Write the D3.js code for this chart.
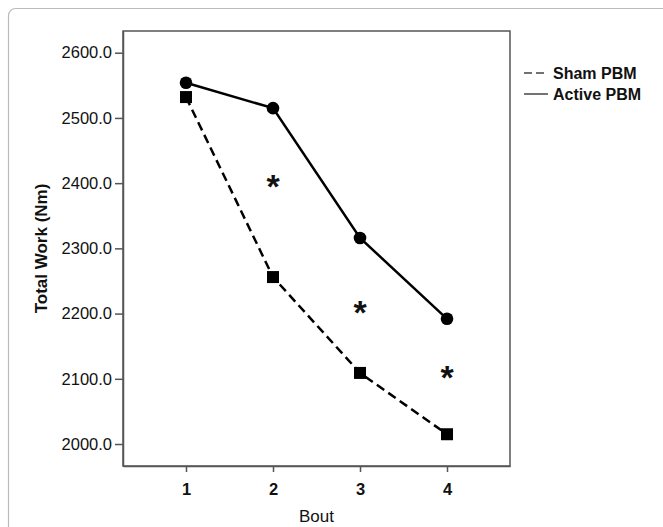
<!DOCTYPE html>
<html>
  <head>
    <meta charset="UTF-8">
    <title>Total work by bout</title>
  </head>
  <style type="text/css">
    body { margin: 0; background: #fff; }
    text { font-family: "Liberation Sans", Arial, sans-serif; fill: #111; }
    .tick text { font-size: 16.5px; }
    .axis-title { font-size: 17px; font-weight: bold; }
    .legend text { font-size: 16px; font-weight: bold; }
  </style>
  <body>
    <svg width="663" height="527"></svg>
  </body>
  <script src="https://d3js.org/d3.v7.min.js"></script>
  <script type="text/javascript">
    const bouts = [1, 2, 3, 4];
    const shamWork = [2532, 2256, 2109, 2015];
    const activeWork = [2554, 2515, 2316, 2192];
    const yTicks = [2000, 2100, 2200, 2300, 2400, 2500, 2600];
    // significance markers (*) between the groups
    const sigBouts = [2, 3, 4];
    const sigWork = [2402, 2208, 2109];

    let svg = d3.select('svg'),
        width = +svg.attr('width'),
        height = +svg.attr('height');

    let plot = { left: 123, top: 31, right: 510, bottom: 466 };

    // outer frame, cut off at right and bottom
    svg.append('rect')
      .attr('x', 8.5).attr('y', 8.5)
      .attr('width', 700).attr('height', 600)
      .attr('rx', 7)
      .attr('fill', 'none')
      .attr('stroke', '#bbb')
      .attr('stroke-width', 1.2);

    const x = d3.scaleLinear()
      .domain([1 - 0.724, 4 + 0.724])
      .range([plot.left, plot.right]);

    const y = d3.scaleLinear()
      .domain([1966.3, 2633.3])
      .range([plot.bottom, plot.top]);

    // plot box
    svg.append('rect')
      .attr('x', plot.left).attr('y', plot.top)
      .attr('width', plot.right - plot.left)
      .attr('height', plot.bottom - plot.top)
      .attr('fill', 'none')
      .attr('stroke', '#555')
      .attr('stroke-width', 1.5);

    const yAxis = svg.append('g')
      .attr('transform', 'translate(' + plot.left + ',0)')
      .call(d3.axisLeft(y).tickValues(yTicks).tickFormat(d3.format('.1f'))
        .tickSizeInner(8).tickSizeOuter(0).tickPadding(3));

    const xAxis = svg.append('g')
      .attr('transform', 'translate(0,' + plot.bottom + ')')
      .call(d3.axisBottom(x).tickValues(bouts).tickFormat(d3.format('d'))
        .tickSizeInner(6).tickSizeOuter(0).tickPadding(11));

    [yAxis, xAxis].forEach(a => {
      a.select('.domain').attr('stroke', '#555').attr('stroke-width', 1.5);
      a.selectAll('.tick line').attr('stroke', '#555').attr('stroke-width', 1.5);
      a.selectAll('.tick text').attr('fill', '#111');
    });
    xAxis.selectAll('.tick text').style('font-weight', 'bold');

    svg.append('text')
      .attr('class', 'axis-title')
      .attr('text-anchor', 'middle')
      .attr('transform', 'translate(47,' + ((plot.top + plot.bottom) / 2) + ') rotate(-90)')
      .text('Total Work (Nm)');

    svg.append('text')
      .attr('class', 'axis-title')
      .style('font-weight', 'normal')
      .attr('text-anchor', 'middle')
      .attr('x', (plot.left + plot.right) / 2)
      .attr('y', 522)
      .text('Bout');

    const line = d3.line()
      .x((d, i) => x(bouts[i]))
      .y(d => y(d));

    svg.append('path')
      .datum(shamWork)
      .attr('d', line)
      .attr('fill', 'none')
      .attr('stroke', '#000')
      .attr('stroke-width', 2.5)
      .attr('stroke-dasharray', '9,5');

    svg.append('path')
      .datum(activeWork)
      .attr('d', line)
      .attr('fill', 'none')
      .attr('stroke', '#000')
      .attr('stroke-width', 2.5);

    svg.selectAll('.sham-pt')
      .data(shamWork)
      .enter().append('rect')
        .attr('class', 'sham-pt')
        .attr('x', (d, i) => x(bouts[i]) - 6)
        .attr('y', d => y(d) - 6)
        .attr('width', 12)
        .attr('height', 12)
        .attr('fill', '#000');

    svg.selectAll('.active-pt')
      .data(activeWork)
      .enter().append('circle')
        .attr('class', 'active-pt')
        .attr('cx', (d, i) => x(bouts[i]))
        .attr('cy', d => y(d))
        .attr('r', 6.3)
        .attr('fill', '#000');

    const starSize = 34;
    svg.selectAll('.star')
      .data(sigWork)
      .enter().append('text')
        .attr('class', 'star')
        .attr('text-anchor', 'middle')
        .attr('x', (d, i) => x(sigBouts[i]))
        .attr('y', d => y(d) + starSize * 0.47)
        .style('font-size', starSize + 'px')
        .style('font-weight', 'bold')
        .text('*');

    // legend
    const legend = svg.append('g').attr('class', 'legend');
    const legendItems = ['Sham PBM', 'Active PBM'];
    legendItems.forEach((name, i) => {
      let ly = 73 + i * 21;
      legend.append('line')
        .attr('x1', 524).attr('x2', 548)
        .attr('y1', ly).attr('y2', ly)
        .attr('stroke', '#444')
        .attr('stroke-width', 1.5)
        .attr('stroke-dasharray', i === 0 ? '8,4' : null);
      legend.append('text')
        .attr('x', 553)
        .attr('y', ly)
        .attr('dy', '0.35em')
        .text(name);
    });
  </script>
</html>
